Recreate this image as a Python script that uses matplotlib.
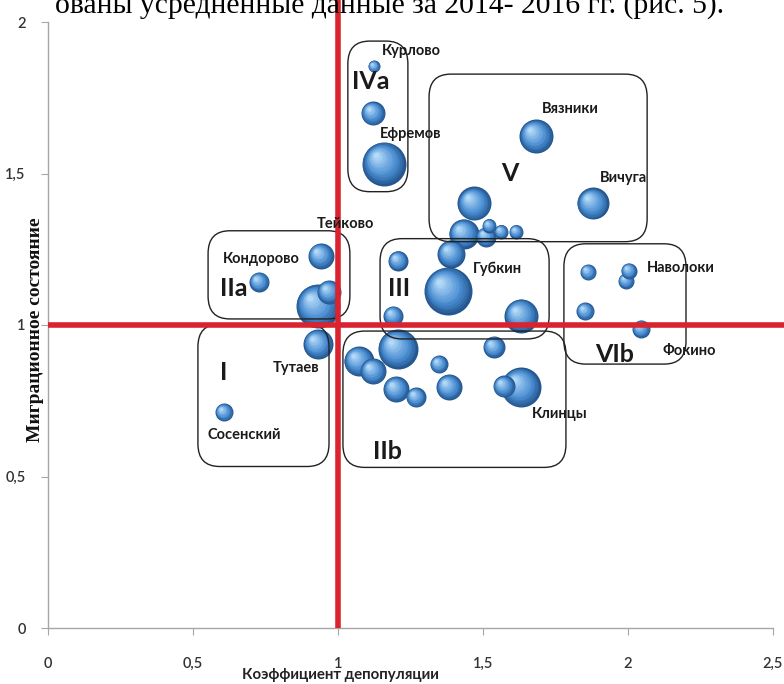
import matplotlib
matplotlib.use("Agg")
import matplotlib.pyplot as plt
from matplotlib.patches import FancyBboxPatch
from matplotlib.transforms import offset_copy
from matplotlib.colors import to_rgb
import numpy as np

# ---------------- data ----------------
# bubble x: коэффициент депопуляции, y: миграционное состояние, r: bubble size
bx = [1.124, 1.121, 1.159, 1.683, 1.879, 1.469, 1.434, 1.521, 1.510, 1.562,
      1.614, 1.390, 1.379, 1.631, 0.941, 0.728, 0.931, 0.969, 1.207, 1.190,
      0.931, 1.207, 1.072, 1.121, 1.348, 1.200, 1.269, 1.383, 1.538, 1.572,
      1.631, 1.862, 2.003, 1.993, 1.852, 2.045, 0.607]
by = [1.854, 1.699, 1.533, 1.623, 1.401, 1.401, 1.301, 1.328, 1.291, 1.308,
      1.308, 1.235, 1.113, 1.030, 1.228, 1.142, 1.063, 1.109, 1.212, 1.030,
      0.937, 0.921, 0.881, 0.848, 0.871, 0.788, 0.762, 0.795, 0.927, 0.798,
      0.795, 1.175, 1.179, 1.146, 1.046, 0.987, 0.712]
bsize = [6, 12, 22, 17, 16, 17, 15, 7, 10, 7,
         7, 14, 24, 17, 13, 10, 22, 12, 10, 10,
         15, 20, 15, 13, 9, 13, 10, 13, 11, 11,
         20, 8, 8, 8, 9, 9, 9]
names = ["Курлово", "", "Ефремов", "Вязники", "Вичуга", "", "", "", "", "",
         "", "", "Губкин", "", "Тейково", "Кондорово", "", "", "", "",
         "Тутаев", "", "", "", "", "", "", "", "", "",
         "Клинцы", "", "Наволоки", "", "", "Фокино", "Сосенский"]

# groups: name, x0, x1, y0, y1
groups = ["I", "IIa", "IIb", "III", "IVa", "V", "VIb"]
group_x0 = [0.517, 0.552, 1.017, 1.145, 1.034, 1.314, 1.779]
group_x1 = [0.969, 1.041, 1.786, 1.728, 1.241, 2.066, 2.200]
group_y0 = [0.533, 1.020, 0.530, 0.954, 1.440, 1.275, 0.871]
group_y1 = [1.003, 1.311, 0.980, 1.285, 1.937, 1.828, 1.268]
group_lx = [0.607, 0.641, 1.169, 1.210, 1.114, 1.593, 1.955]
group_ly = [0.844, 1.119, 0.583, 1.119, 1.805, 1.500, 0.904]

xticks = [0, 0.5, 1, 1.5, 2, 2.5]
yticks = [0, 0.5, 1, 1.5, 2]
xtick_labels = ["0", "0,5", "1", "1,5", "2", "2,5"]
ytick_labels = ["0", "0,5", "1", "1,5", "2"]

# label offsets relative to their bubble (pixels: dx right, dy up)
label_offsets = {
    "Курлово": (37, 15), "Ефремов": (27, 30), "Вязники": (34, 27),
    "Вичуга": (31, 25), "Тейково": (25, 32), "Кондорово": (2, 23),
    "Губкин": (50, 22), "Наволоки": (52, 3), "Фокино": (48, -22),
    "Тутаев": (-22, -24), "Клинцы": (39, -27), "Сосенский": (20, -23),
}

# ---------------- figure ----------------
DPI = 100
fig = plt.figure(figsize=(7.84, 6.84), dpi=DPI)
ax = fig.add_axes([48 / 784, 56 / 684, 725 / 784, 606 / 684])
ax.set_xlim(0, 2.5)
ax.set_ylim(0, 2)

cal = ["Lato", "DejaVu Sans"]
PX = 72.0 / DPI

for s in ["top", "right"]:
    ax.spines[s].set_visible(False)
for s in ["left", "bottom"]:
    ax.spines[s].set_color("#A6A6A6")
    ax.spines[s].set_linewidth(1.0)
ax.set_xticks(xticks)
ax.set_xticklabels(xtick_labels)
ax.set_yticks(yticks)
ax.set_yticklabels(ytick_labels)
ax.tick_params(axis="both", direction="out", length=5, color="#A6A6A6",
               labelsize=10.5, labelcolor="#333333")
ax.tick_params(axis="x", pad=16)
ax.tick_params(axis="y", pad=11)
for t in ax.get_xticklabels() + ax.get_yticklabels():
    t.set_family(cal)
    t.set_fontweight("semibold")

# ---------------- 3D-looking bubbles ----------------
dark = np.array(to_rgb("#24568F"))
mid = np.array(to_rgb("#4A8ED2"))
light = np.array(to_rgb("#B4DAF8"))

def shade(t):
    if t < 0.35:
        u = t / 0.35
        return dark * (1 - u) + mid * u
    u = (t - 0.35) / 0.65
    return mid * (1 - u) + light * u

order = np.argsort(bsize)[::-1]
nl = 14
for rank, i in enumerate(order):
    r = bsize[i]
    base_z = 2 + rank * 0.01
    for j in range(nl):
        k = 1 - 0.88 * j / (nl - 1)
        off = (1 - k) * 0.42 * r * PX
        tr = offset_copy(ax.transData, fig=fig, x=-off, y=off, units="points")
        diam = 2 * r * k * PX
        ax.scatter([bx[i]], [by[i]], s=diam ** 2, color=[shade(j / (nl - 1))],
                   linewidths=0, transform=tr, zorder=base_z + j * 0.0005)

# ---------------- town labels ----------------
for i, nm in enumerate(names):
    if not nm:
        continue
    dx, dy = label_offsets[nm]
    ax.annotate(nm, (bx[i], by[i]), xytext=(dx * PX, dy * PX),
                textcoords="offset points", ha="center", va="center",
                fontsize=10.5, fontweight="bold", family=cal, color="#1a1a1a",
                zorder=8)

# ---------------- group boxes ----------------
for g, x0, x1, y0, y1, lx, ly in zip(groups, group_x0, group_x1, group_y0,
                                     group_y1, group_lx, group_ly):
    box = FancyBboxPatch((x0, y0), x1 - x0, y1 - y0,
                         boxstyle="round,pad=0,rounding_size=0.075",
                         fc="none", ec="#222222", lw=1.0, zorder=6)
    ax.add_patch(box)
    ax.text(lx, ly, g, ha="center", va="center", fontsize=18,
            fontweight="bold", family=cal, color="#1a1a1a", zorder=8)

# ---------------- red reference lines ----------------
ax.plot([1, 1], [0, 2.09], color="#D9232E", lw=4, solid_capstyle="butt",
        clip_on=False, zorder=7)
ax.plot([0, 2.58], [1, 1], color="#D9232E", lw=4, solid_capstyle="butt",
        clip_on=False, zorder=7)

# ---------------- axis titles ----------------
fig.text(340 / 784, 1 - 675 / 684, "Коэффициент депопуляции", ha="center",
         va="center", fontsize=10.8, fontweight="bold", family=cal,
         color="#222222")
fig.text(36 / 784, 1 - 330 / 684, "Миграционное состояние", ha="center",
         va="center", rotation=90, fontsize=14, fontweight="bold",
         family=["Liberation Serif", "DejaVu Serif"], color="#111111")

# cut-off line of document text above the chart
fig.text(55 / 784, 1 - 13 / 684, "ованы усредненные данные за 2014- 2016 гг. (рис. 5).",
         ha="left", va="baseline", fontsize=21.3,
         family=["Liberation Serif", "DejaVu Serif"], color="#000000")

fig.savefig("out.png", dpi=DPI)
